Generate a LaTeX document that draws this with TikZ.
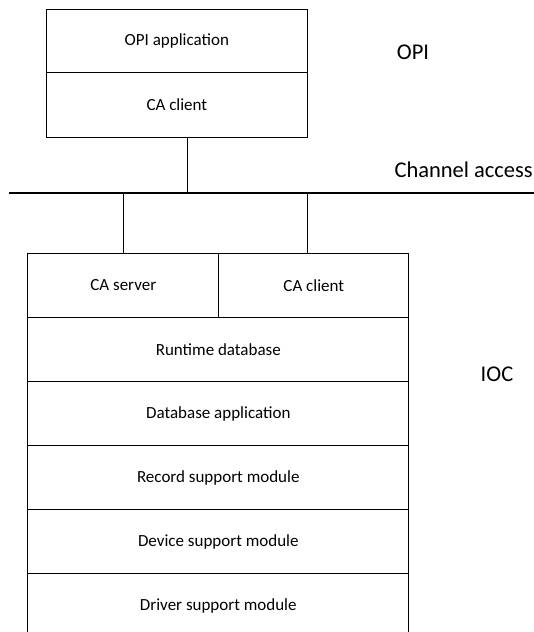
\documentclass[tikz,border=0pt]{standalone}
\usepackage{fontspec}
\setmainfont{Carlito}
\usetikzlibrary{positioning}

\begin{document}
\begin{tikzpicture}[x=1pt, y=-1pt,
    layer/.style={draw, line width=1pt, inner sep=0pt, anchor=north west,
      font=\fontsize{17}{20}\selectfont},
    tag/.style={font=\fontsize{22.5}{27}\selectfont}]
  \useasboundingbox (0,0) rectangle (534,632);

  % operator interface stack
  \node[layer, minimum width=260.7, minimum height=63] (opiapp) at (46,9.3) {OPI application};
  \node[layer, minimum width=260.7, minimum height=64.4] (opiclient) at (46,72.3) {CA client};

  % network
  \coordinate (busL) at (9,193);
  \coordinate (busR) at (540,193);
  \draw[line width=1.6pt] (busL) -- (busR);

  % IOC stack
  \node[layer, minimum width=191, minimum height=63.4] (caserver) at (27.3,253.3) {CA server};
  \node[layer, minimum width=190, minimum height=63.4] (caclient) at (218.3,253.3) {CA client};
  \node[layer, minimum width=381, minimum height=64.3] (runtime) at (27.3,316.7) {Runtime database};
  \node[layer, minimum width=381, minimum height=64] (dbapp) at (27.3,381) {Database application};
  \node[layer, minimum width=381, minimum height=64.3] (record) at (27.3,445) {Record support module};
  \node[layer, minimum width=381, minimum height=63.7] (device) at (27.3,509.3) {Device support module};
  \node[layer, minimum width=381, minimum height=64] (driver) at (27.3,573) {Driver support module};

  % links to the network
  \coordinate (opitap) at ([xshift=11pt]opiclient.south);
  \coordinate (clienttap) at ([xshift=-6.6pt]caclient.north);
  \draw[line width=1pt] (opitap) -- (opitap |- busL);
  \draw[line width=1pt] (caserver.north) -- (caserver.north |- busL);
  \draw[line width=1pt] (clienttap) -- (clienttap |- busL);

  % side labels
  \node[tag] (opilabel) at (413,52) {OPI};
  \node[tag, anchor=east, inner sep=0pt] (calabel) at (533,170) {Channel access};
  \node[tag] (ioclabel) at (497,374) {IOC};
\end{tikzpicture}
\end{document}
